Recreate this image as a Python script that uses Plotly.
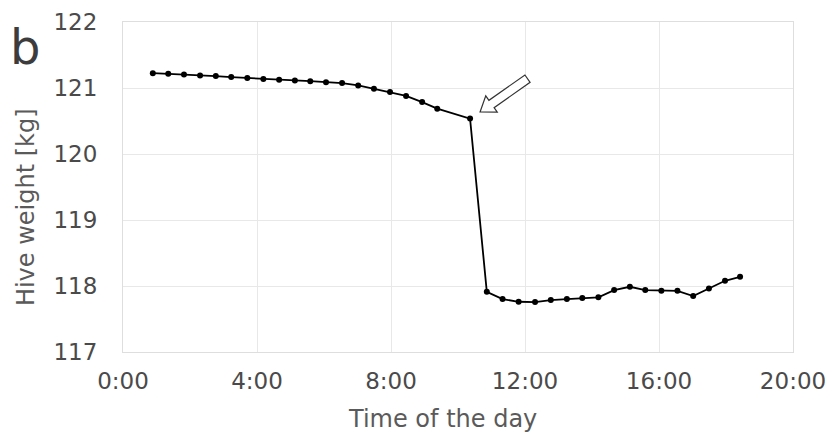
import numpy as np
import plotly.graph_objects as go

# Time of day in hours (decimal)
hours = [0.89, 1.35, 1.82, 2.30, 2.77, 3.23, 3.71, 4.19, 4.66, 5.13, 5.59, 6.06,
         6.54, 7.02, 7.49, 7.97, 8.45, 8.93, 9.38, 10.36, 10.86, 11.33, 11.81,
         12.30, 12.77, 13.25, 13.71, 14.19, 14.66, 15.13, 15.59, 16.07, 16.55,
         17.02, 17.49, 17.97, 18.42]
# Hive weight [kg]
weight = [121.225, 121.216, 121.206, 121.191, 121.180, 121.165, 121.150, 121.135,
          121.126, 121.115, 121.104, 121.089, 121.074, 121.039, 120.989, 120.938,
          120.880, 120.787, 120.687, 120.536, 117.912, 117.802, 117.761, 117.756,
          117.787, 117.802, 117.817, 117.828, 117.938, 117.988, 117.938, 117.927,
          117.927, 117.847, 117.964, 118.079, 118.139]

x_tickvals = [0, 4, 8, 12, 16, 20]
x_ticktext = ["0:00", "4:00", "8:00", "12:00", "16:00", "20:00"]
y_tickvals = [117, 118, 119, 120, 121, 122]

FONT = "DejaVu Sans"
TICK_COLOR = "#4a4a4a"
TITLE_COLOR = "#5a5a5a"
GRID = "#e8e8e8"
SPINE = "#dedede"

fig = go.Figure()
fig.add_trace(go.Scatter(
    x=hours, y=weight, mode="lines+markers",
    line=dict(color="black", width=1.8),
    marker=dict(color="black", size=6),
    showlegend=False, hoverinfo="skip",
))

# hollow block arrow pointing at the drop point (pixel geometry relative to that point)
drop_idx = int(np.argmax(-np.diff(weight)))
ax_, ay_ = hours[drop_idx], weight[drop_idx]
tip = np.array([10.0, 6.6])
u = np.array([0.818, 0.575]); u = u / np.linalg.norm(u)
n = np.array([-u[1], u[0]])
head_len, head_w, shaft_w, total_len = 14.0, 10.0, 4.5, 58.0
base = tip + head_len * u
tail = tip + total_len * u
pts = [tip, base + head_w * n, base + shaft_w * n, tail + shaft_w * n,
       tail - shaft_w * n, base - shaft_w * n, base - head_w * n]
path = "M " + " L ".join(f"{p[0]:.2f},{p[1]:.2f}" for p in pts) + " Z"
fig.add_shape(type="path", path=path, xref="x", yref="y",
              xsizemode="pixel", ysizemode="pixel", xanchor=ax_, yanchor=ay_,
              line=dict(color="#333333", width=1.2), fillcolor="white", layer="above")

fig.update_layout(
    width=829, height=433,
    margin=dict(l=123, r=36, t=22, b=81, autoexpand=False),
    paper_bgcolor="white", plot_bgcolor="white",
    font=dict(family=FONT, size=23, color=TICK_COLOR),
    xaxis=dict(range=[0, 20], tickvals=x_tickvals, ticktext=x_ticktext,
               showgrid=True, gridcolor=GRID, gridwidth=1, zeroline=False,
               showline=True, linecolor=SPINE, linewidth=1, mirror=True,
               ticks="", ticklabelstandoff=8, automargin=False,
               tickfont=dict(family=FONT, size=23, color=TICK_COLOR)),
    yaxis=dict(range=[117, 122], tickvals=y_tickvals,
               showgrid=True, gridcolor=GRID, gridwidth=1, zeroline=False,
               showline=True, linecolor=SPINE, linewidth=1, mirror=True,
               ticks="", ticklabelstandoff=20, automargin=False,
               tickfont=dict(family=FONT, size=23, color=TICK_COLOR)),
    annotations=[
        dict(text="Time of the day", xref="paper", yref="paper", x=0.4776, y=-0.203,
             xanchor="center", yanchor="middle", showarrow=False,
             font=dict(family=FONT, size=24, color=TITLE_COLOR)),
        dict(text="Hive weight [kg]", xref="paper", yref="paper", x=-0.1448, y=0.439,
             xanchor="center", yanchor="middle", showarrow=False, textangle=-90,
             font=dict(family=FONT, size=24, color=TITLE_COLOR)),
        dict(text="b", xref="paper", yref="paper", x=-0.146, y=0.924,
             xanchor="center", yanchor="middle", showarrow=False,
             font=dict(family=FONT, size=48, color="#3c3c3c")),
    ],
)

fig.write_html("out.html")
